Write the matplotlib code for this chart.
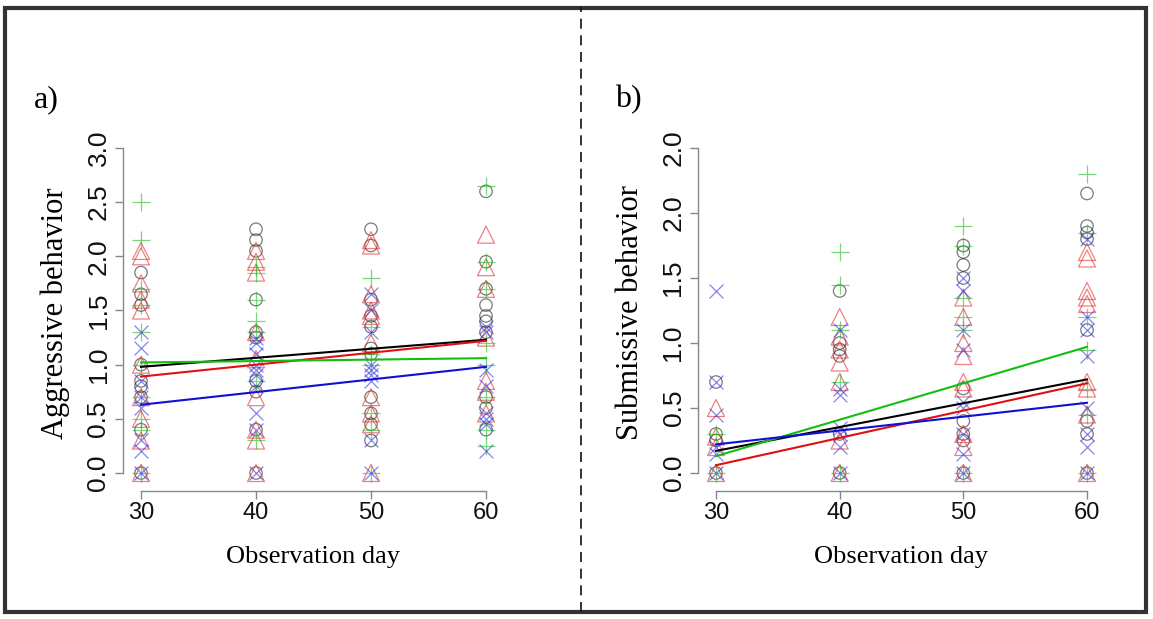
import matplotlib
matplotlib.use("Agg")
import matplotlib.pyplot as plt
from matplotlib.patches import Rectangle
from matplotlib.lines import Line2D

# ---------------- data ----------------
days = [30, 40, 50, 60]
groups = ["circle", "triangle", "plus", "cross"]

# Aggressive behaviour (panel a): values per group per day
agg_circle = {
    30: [1.85, 1.65, 1.55, 1.0, 0.85, 0.8, 0.7, 0.4, 0.0],
    40: [2.25, 2.15, 2.05, 1.6, 1.3, 1.25, 0.85, 0.75, 0.4, 0.0],
    50: [2.25, 2.1, 1.6, 1.45, 1.35, 1.15, 1.1, 0.7, 0.55, 0.45, 0.3],
    60: [2.6, 1.95, 1.7, 1.55, 1.45, 1.4, 1.3, 0.7, 0.6, 0.4],
}
agg_triangle = {
    30: [2.05, 2.0, 1.75, 1.6, 1.5, 1.0, 0.7, 0.5, 0.3, 0.0],
    40: [2.05, 1.95, 1.85, 1.3, 1.05, 0.7, 0.4, 0.3, 0.0],
    50: [2.15, 2.1, 1.65, 1.5, 1.45, 1.2, 0.7, 0.55, 0.45, 0.0],
    60: [2.2, 1.9, 1.7, 1.25, 0.85, 0.75, 0.55],
}
agg_plus = {
    30: [2.5, 2.15, 1.7, 1.55, 1.3, 1.0, 0.7, 0.5, 0.4, 0.0],
    40: [1.9, 1.85, 1.6, 1.4, 1.3, 0.85, 0.3],
    50: [1.8, 1.35, 1.1, 1.0, 0.55, 0.4, 0.0],
    60: [2.65, 1.95, 1.7, 1.2, 1.0, 0.7, 0.4, 0.25],
}
agg_cross = {
    30: [1.3, 1.15, 0.85, 0.7, 0.6, 0.3, 0.2, 0.0],
    40: [1.25, 1.2, 1.1, 1.0, 0.95, 0.9, 0.8, 0.55, 0.4, 0.0],
    50: [1.65, 1.5, 1.3, 1.0, 0.95, 0.9, 0.85, 0.3, 0.0],
    60: [1.35, 1.3, 0.95, 0.8, 0.55, 0.5, 0.45, 0.2],
}

# Submissive behaviour (panel b)
sub_circle = {
    30: [0.7, 0.3, 0.25, 0.0],
    40: [1.4, 1.0, 0.95, 0.9, 0.3, 0.0],
    50: [1.75, 1.7, 1.6, 1.5, 0.65, 0.4, 0.3, 0.25, 0.0],
    60: [2.15, 1.9, 1.85, 1.8, 1.1, 0.4, 0.3, 0.0],
}
sub_triangle = {
    30: [0.5, 0.28, 0.2, 0.0],
    40: [1.2, 1.05, 0.85, 0.95, 0.7, 0.25, 0.0],
    50: [1.35, 1.2, 1.0, 0.9, 0.7, 0.65, 0.3, 0.2, 0.0],
    60: [1.7, 1.65, 1.4, 1.35, 1.3, 0.7, 0.65, 0.45, 0.0],
}
sub_plus = {
    30: [0.3, 0.0],
    40: [1.7, 1.45, 1.1, 0.7, 0.0],
    50: [1.9, 1.75, 1.35, 1.2, 1.1, 0.0],
    60: [2.3, 1.85, 1.2, 0.95, 0.65, 0.45, 0.0],
}
sub_cross = {
    30: [1.4, 0.7, 0.45, 0.2, 0.15, 0.0],
    40: [1.1, 0.65, 0.6, 0.35, 0.3, 0.2, 0.0],
    50: [1.5, 1.4, 1.1, 0.95, 0.55, 0.5, 0.3, 0.15, 0.0],
    60: [1.8, 1.2, 1.1, 0.9, 0.5, 0.3, 0.2, 0.0],
}

# fitted lines: value at day 30 and at day 60
line_days = [30, 60]
agg_fit = {"circle": [0.98, 1.23], "triangle": [0.89, 1.22],
           "plus": [1.02, 1.06], "cross": [0.63, 0.98]}
sub_fit = {"circle": [0.17, 0.72], "triangle": [0.06, 0.69],
           "plus": [0.13, 0.97], "cross": [0.22, 0.54]}

agg_yticks = [0.0, 0.5, 1.0, 1.5, 2.0, 2.5, 3.0]
agg_yticklabels = ["0.0", "0.5", "1.0", "1.5", "2.0", "2.5", "3.0"]
sub_yticks = [0.0, 0.5, 1.0, 1.5, 2.0, 2.5]
sub_yticklabels = ["0.0", "0.5", "1.0", "1.5", "2.0", "2.0"]

# ---------------- styling ----------------
marker_style = {
    "circle": dict(marker="o", s=80, color="#222222"),
    "triangle": dict(marker="^", s=150, color="#e03030"),
    "plus": dict(marker="+", s=150, color="#22bb22"),
    "cross": dict(marker="x", s=100, color="#3333dd"),
}
line_color = {"circle": "#000000", "triangle": "#e01010",
              "plus": "#10c010", "cross": "#1010d0"}

W, H = 1153, 619
fig = plt.figure(figsize=(W / 100, H / 100), dpi=100)
serif = ["Liberation Serif", "DejaVu Serif"]
sans = ["Liberation Sans", "DejaVu Sans"]


def px_axes(left, right, top, bottom):
    return [left / W, 1 - bottom / H, (right - left) / W, (bottom - top) / H]


def draw_panel(ax, data, fits, yticks, yticklabels, ylabel):
    for g, d in zip(groups, data):
        st = marker_style[g]
        for day in days:
            vals = d[day]
            xs = [day] * len(vals)
            if st["marker"] in ("+", "x"):
                ax.scatter(xs, vals, marker=st["marker"], s=st["s"],
                           c=st["color"], linewidths=0.9, alpha=0.6, zorder=2)
            else:
                ax.scatter(xs, vals, marker=st["marker"], s=st["s"],
                           facecolors="none", edgecolors=st["color"],
                           linewidths=0.9, alpha=0.6, zorder=2)
    for g in groups:
        ax.plot(line_days, fits[g], color=line_color[g], lw=1.5, zorder=3)
    for sp in ("top", "right"):
        ax.spines[sp].set_visible(False)
    for sp in ("left", "bottom"):
        ax.spines[sp].set_color("#888888")
        ax.spines[sp].set_linewidth(1.0)
    ax.spines["left"].set_bounds(yticks[0], yticks[-1])
    ax.spines["bottom"].set_bounds(days[0], days[-1])
    ax.set_xticks(days)
    ax.set_xticklabels([str(d) for d in days], fontsize=17, family=sans)
    ax.set_yticks(yticks)
    ax.set_yticklabels(yticklabels, fontsize=19, family=sans, rotation=90,
                       va="center")
    ax.tick_params(axis="x", length=6, color="#888888", width=1.0,
                   pad=2, labelcolor="#111111")
    ax.tick_params(axis="y", length=6, color="#888888", width=1.0,
                   pad=3, labelcolor="#111111")
    ax.set_xlabel("Observation day", fontsize=19, family=serif, labelpad=16)
    ax.set_ylabel(ylabel, fontsize=22, family=serif, labelpad=12)
    ax.set_facecolor("none")


# Panel a
ax1 = fig.add_axes(px_axes(123, 503, 135, 491))
ax1.set_xlim(30 - 18 / 11.5, 60 + 17 / 11.5)
ax1.set_ylim(-18 / 108.33, 3 + 13 / 108.33)
draw_panel(ax1, [agg_circle, agg_triangle, agg_plus, agg_cross], agg_fit,
           agg_yticks, agg_yticklabels, "Aggressive behavior")

# Panel b
ax2 = fig.add_axes(px_axes(698, 1105, 135, 491))
ax2.set_xlim(30 - 18 / 12.37, 60 + 18 / 12.37)
ax2.set_ylim(-18 / 130.0, 2.5 + 13 / 130.0)
draw_panel(ax2, [sub_circle, sub_triangle, sub_plus, sub_cross], sub_fit,
           sub_yticks, sub_yticklabels, "Submissive behavior")

# panel letters
fig.text(34 / W, 1 - 100 / H, "a)", fontsize=23, family=serif, va="center",
         ha="left")
fig.text(615 / W, 1 - 100 / H, "b)", fontsize=23, family=serif, va="center",
         ha="left")

# dashed divider and outer border
fig.add_artist(Line2D([581 / W, 581 / W], [0.012, 0.988], color="#111111",
                      lw=1.2, linestyle=(0, (6, 4)), transform=fig.transFigure))
fig.add_artist(Rectangle((5 / W, 7 / H), 1141 / W, 604 / H, fill=False,
                         edgecolor="#333333", lw=3, transform=fig.transFigure))

fig.savefig("out.png", dpi=100, facecolor="white")
